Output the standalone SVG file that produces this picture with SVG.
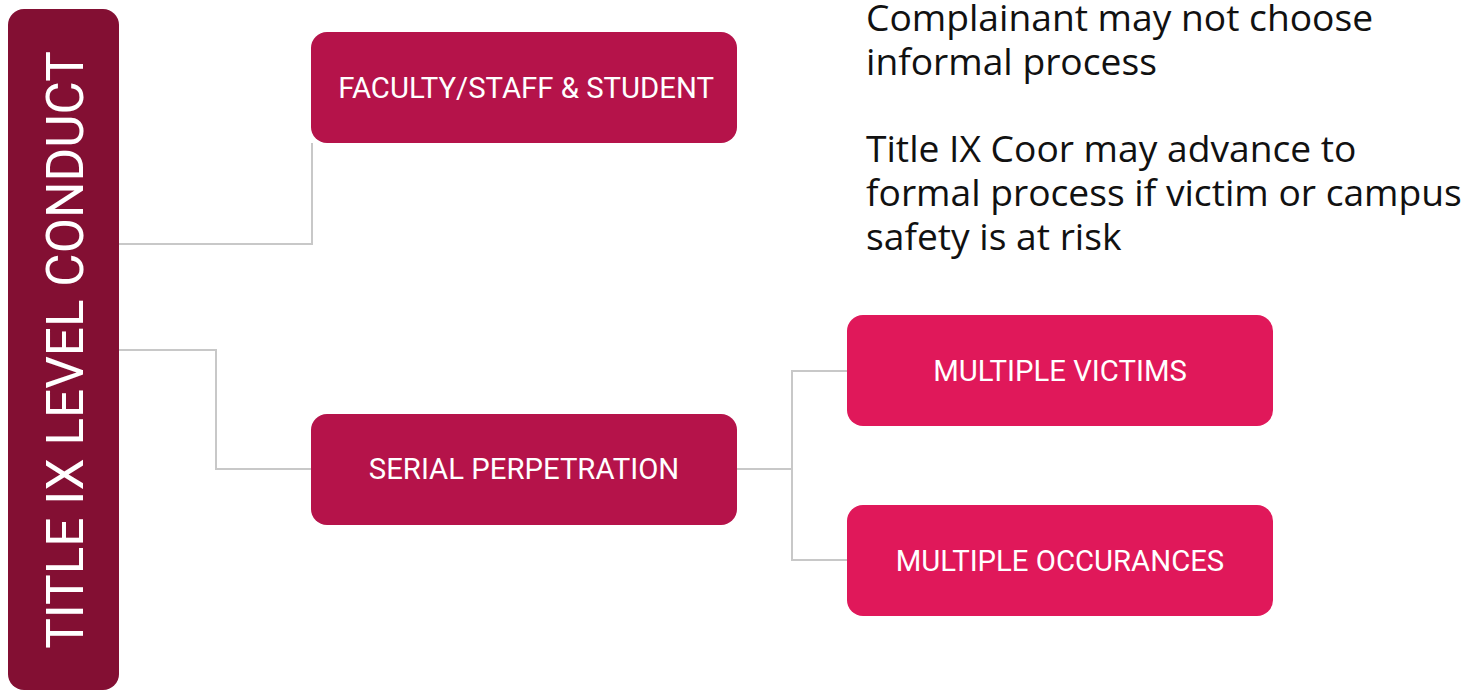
<svg xmlns="http://www.w3.org/2000/svg" width="1468" height="691" viewBox="0 0 1468 691">
<style>
.lbl{font-family:Roboto,"Liberation Sans",sans-serif;fill:#ffffff;text-anchor:middle}
.box{font-size:29.3px}
.note{font-family:"Open Sans","Noto Sans","Liberation Sans",sans-serif;font-size:37.2px;fill:#111111}
.conn{fill:none;stroke:#c8c8c8;stroke-width:2}
</style>
<rect width="1468" height="691" fill="#ffffff"/>
<g id="connectors">
<path class="conn" d="M119 244 H312 V143"/>
<path class="conn" d="M119 350 H216 V469 H311"/>
<path class="conn" d="M737 469 H792"/>
<path class="conn" d="M847 371 H792 V560 H847"/>
</g>
<g id="title">
<rect x="8" y="9" width="111" height="681" rx="16" fill="#830f33"/>
<text class="lbl" x="0" y="0" font-size="51.3" transform="translate(82.5,350) rotate(-90)">TITLE IX LEVEL CONDUCT</text>
</g>
<g id="faculty">
<rect x="311" y="32" width="426" height="111" rx="16" fill="#b5134a"/>
<text class="lbl box" x="526" y="98">FACULTY/STAFF &amp; STUDENT</text>
</g>
<g id="serial">
<rect x="311" y="414" width="426" height="111" rx="16" fill="#b5134a"/>
<text class="lbl box" x="524" y="479">SERIAL PERPETRATION</text>
</g>
<g id="victims">
<rect x="847" y="315" width="426" height="111" rx="16" fill="#e0185a"/>
<text class="lbl box" x="1060" y="381">MULTIPLE VICTIMS</text>
</g>
<g id="occurances">
<rect x="847" y="505" width="426" height="111" rx="16" fill="#e0185a"/>
<text class="lbl box" x="1060" y="571">MULTIPLE OCCURANCES</text>
</g>
<g id="notes">
<text class="note" x="866" y="31">Complainant may not choose</text>
<text class="note" x="866" y="75">informal process</text>
<text class="note" x="866" y="162">Title IX Coor may advance to</text>
<text class="note" x="866" y="206">formal process if victim or campus</text>
<text class="note" x="866" y="250">safety is at risk</text>
</g>
</svg>
